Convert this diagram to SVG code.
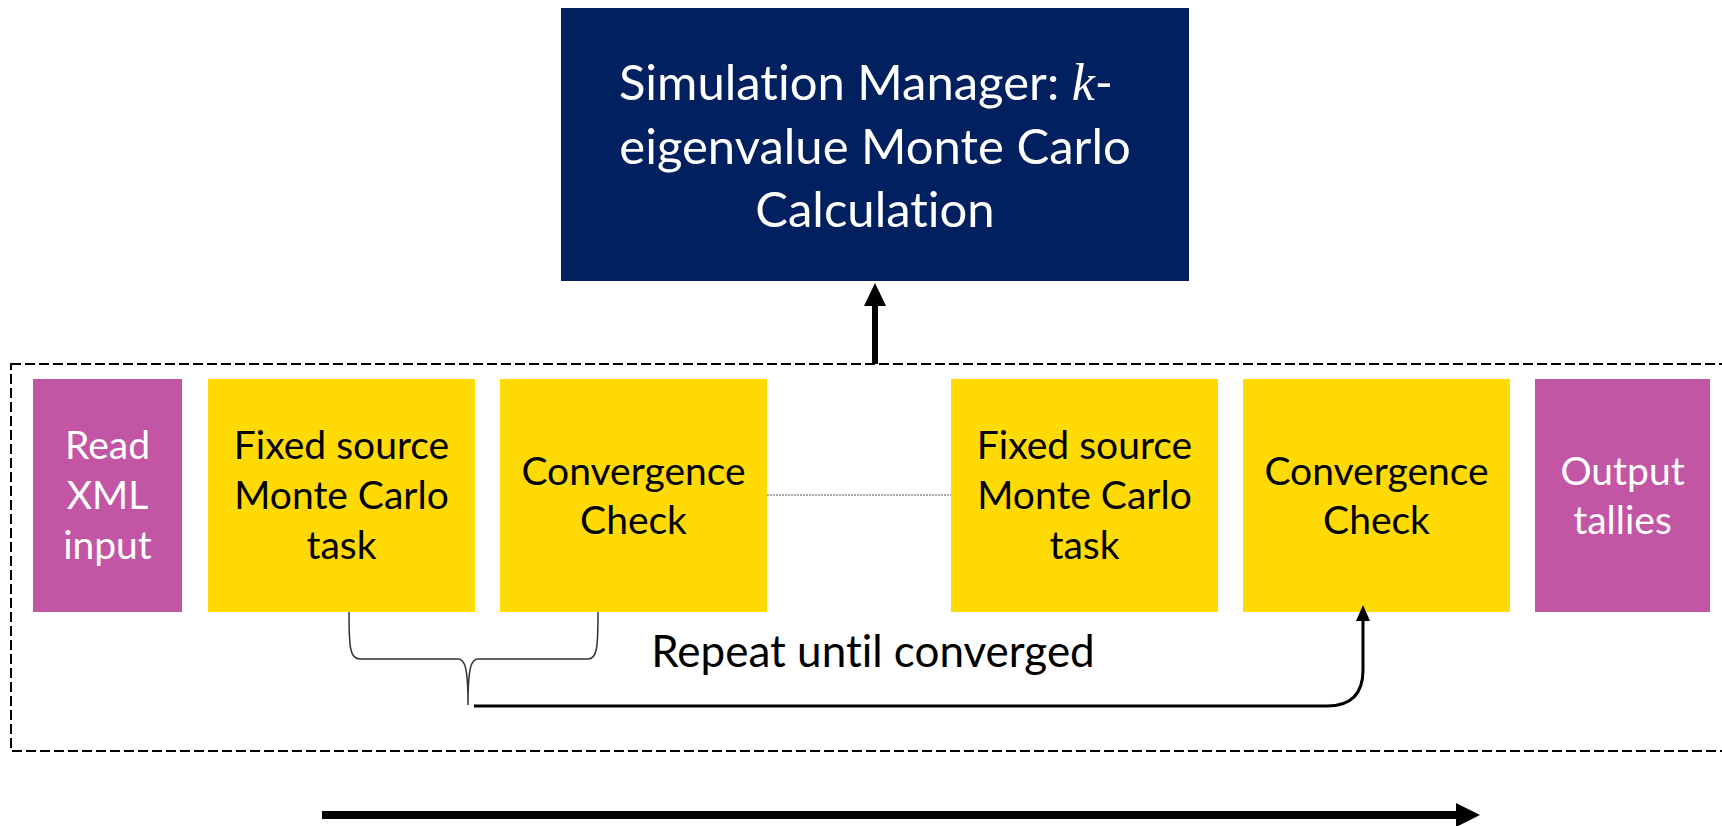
<svg xmlns="http://www.w3.org/2000/svg" width="1722" height="826" viewBox="0 0 1722 826">
<style>
  .t { font-family: Lato, "Liberation Sans", sans-serif; text-anchor: middle; font-variant-ligatures: none; font-feature-settings: "liga" 0; }
  .w { fill: #ffffff; }
  .b { fill: #000000; }
  .box { font-size: 39px; }
  .yel { fill: #FFDA05; }
  .mag { fill: #C355A5; }
</style>
<rect x="0" y="0" width="1722" height="826" fill="#ffffff"/>
<g id="frame">
  <rect x="11" y="364" width="1730" height="387" fill="none" stroke="#000" stroke-width="2" stroke-dasharray="10,4"/>
</g>
<g id="manager">
  <rect x="561" y="8" width="628" height="273" fill="#002060"/>
  <text class="t w" font-size="49" x="866" y="100">Simulation Manager: <tspan font-family="'Liberation Serif', serif" font-style="italic" font-size="52">k</tspan>-</text>
  <text class="t w" font-size="49" x="875" y="164">eigenvalue Monte Carlo</text>
  <text class="t w" font-size="49" x="875" y="227">Calculation</text>
</g>
<g id="read">
  <rect class="mag" x="33" y="379" width="149" height="233"/>
  <text class="t w box" x="107.5" y="459">Read</text>
  <text class="t w box" x="107.5" y="509">XML</text>
  <text class="t w box" x="107.5" y="559">input</text>
</g>
<g id="fixed1">
  <rect class="yel" x="208" y="379" width="267" height="233"/>
  <text class="t b box" x="341.5" y="459">Fixed source</text>
  <text class="t b box" x="341.5" y="509">Monte Carlo</text>
  <text class="t b box" x="341.5" y="559">task</text>
</g>
<g id="conv1">
  <rect class="yel" x="500" y="379" width="267" height="233"/>
  <text class="t b box" x="633.5" y="485">Convergence</text>
  <text class="t b box" x="633.5" y="534">Check</text>
</g>
<g id="fixed2">
  <rect class="yel" x="951" y="379" width="267" height="233"/>
  <text class="t b box" x="1084.5" y="459">Fixed source</text>
  <text class="t b box" x="1084.5" y="509">Monte Carlo</text>
  <text class="t b box" x="1084.5" y="559">task</text>
</g>
<g id="conv2">
  <rect class="yel" x="1243" y="379" width="267" height="233"/>
  <text class="t b box" x="1376.5" y="485">Convergence</text>
  <text class="t b box" x="1376.5" y="534">Check</text>
</g>
<g id="output">
  <rect class="mag" x="1535" y="379" width="175" height="233"/>
  <text class="t w box" x="1622.5" y="485">Output</text>
  <text class="t w box" x="1622.5" y="534">tallies</text>
</g>
<g id="connectors">
  <line x1="875" y1="364" x2="875" y2="302" stroke="#000" stroke-width="6"/>
  <polygon points="875,283 864,306 886,306" fill="#000"/>
  <line x1="767" y1="495" x2="951" y2="495" stroke="#555" stroke-width="1.2" stroke-dasharray="2,1"/>
  <path d="M349,612 C349,648 350,659 360,659 L458,659 C465,659 468,668 468,705 C468,668 471,659 478,659 L588,659 C597,659 598,648 598,612" fill="none" stroke="#333" stroke-width="1.5"/>
  <path d="M474,706 L1327,706 Q1363,706 1363,670 L1363,618" fill="none" stroke="#000" stroke-width="3"/>
  <polygon points="1363,605 1356,621 1370,621" fill="#000"/>
  <line x1="322" y1="815" x2="1458" y2="815" stroke="#000" stroke-width="8"/>
  <polygon points="1480,815 1456,803 1456,827" fill="#000"/>
</g>
<g id="label">
  <text class="t b" font-size="44" x="873" y="667">Repeat until converged</text>
</g>
</svg>
